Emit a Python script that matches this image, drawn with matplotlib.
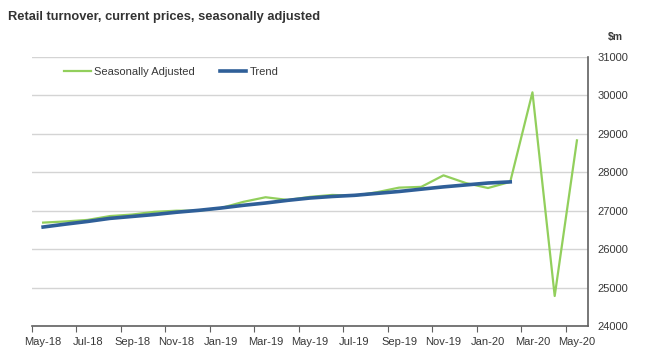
import numpy as np
import matplotlib.pyplot as plt
from matplotlib.ticker import FixedLocator, NullFormatter

plt.rcParams['font.family'] = ['Liberation Sans', 'DejaVu Sans']

# Monthly retail turnover, $m
months = ['May-18', 'Jun-18', 'Jul-18', 'Aug-18', 'Sep-18', 'Oct-18', 'Nov-18',
          'Dec-18', 'Jan-19', 'Feb-19', 'Mar-19', 'Apr-19', 'May-19', 'Jun-19',
          'Jul-19', 'Aug-19', 'Sep-19', 'Oct-19', 'Nov-19', 'Dec-19', 'Jan-20',
          'Feb-20', 'Mar-20', 'Apr-20', 'May-20']
seas_adj = [26690, 26720, 26760, 26860, 26900, 26970, 27000, 27000, 27070,
            27230, 27350, 27280, 27360, 27410, 27390, 27480, 27600, 27620,
            27920, 27720, 27590, 27750, 30080, 24780, 28830]
trend = [26575, 26650, 26720, 26800, 26850, 26900, 26960, 27010, 27070,
         27140, 27200, 27270, 27330, 27370, 27400, 27450, 27500, 27560,
         27620, 27670, 27720, 27750]

green = '#92cf5c'
blue = '#2f5f98'
txt = '#383838'

fig = plt.figure(figsize=(6.6, 3.63), dpi=100)
ax = fig.add_axes([0.0485, 0.102, 0.8425, 0.741])

x = np.arange(len(months))
ax.plot(x, seas_adj, color=green, lw=1.6, label='Seasonally Adjusted', zorder=3)
ax.plot(x[:len(trend)], trend, color=blue, lw=2.6, label='Trend', zorder=4)

ax.set_xlim(-0.5, len(months) - 0.5)
ax.set_ylim(24000, 31000)
ax.set_yticks(np.arange(24000, 31001, 1000))
ax.yaxis.tick_right()
ax.grid(axis='y', color='#d4d4d4', lw=1)
ax.set_axisbelow(True)

# tick marks at category borders, labels at category centres
ax.xaxis.set_major_locator(FixedLocator(np.arange(-0.5, len(months) - 1, 2)))
ax.xaxis.set_major_formatter(NullFormatter())
ax.xaxis.set_minor_locator(FixedLocator(x[::2]))
ax.set_xticklabels(months[::2], minor=True)
ax.tick_params(axis='x', which='major', length=4, color='#606060', direction='out')
ax.tick_params(axis='x', which='minor', length=0, pad=8, labelsize=8, labelcolor=txt)
ax.tick_params(axis='y', length=0, pad=7, labelsize=8, labelcolor=txt)

for s in ['left', 'top']:
    ax.spines[s].set_visible(False)
for s in ['right', 'bottom']:
    ax.spines[s].set_color('#606060')
    ax.spines[s].set_linewidth(1.2)

ax.legend(loc='upper left', bbox_to_anchor=(0.04, 1.0), ncol=2, frameon=False,
          fontsize=8, handlelength=2.4, handletextpad=0.27, columnspacing=2.25,
          labelcolor=txt)

fig.text(0.012, 0.953, 'Retail turnover, current prices, seasonally adjusted',
         fontsize=9.3, fontweight='bold', color='#333333', va='center')
fig.text(0.933, 0.898, '$m', fontsize=7.5, fontweight='bold', color=txt,
         ha='center', va='center')

fig.savefig('out.png', dpi=100)
